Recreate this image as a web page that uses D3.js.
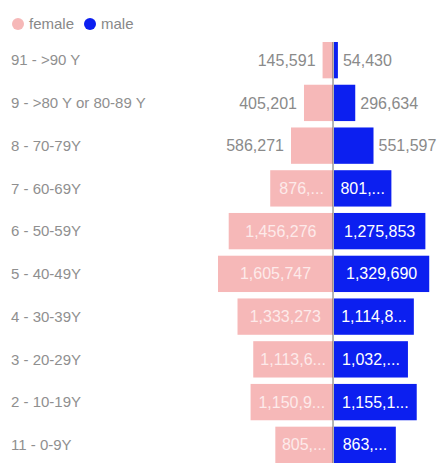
<!DOCTYPE html>
<meta charset="utf-8">
<script src="https://d3js.org/d3.v7.min.js"></script>
<style>
    body { margin: 0; background: #fff; }
    text { font-family: "Liberation Sans", Arial, sans-serif; }
</style>
<body>
    <div id="data_vis"></div>
</body>
<script>
    // age groups, top to bottom
    const categories = ["91 - >90 Y", "9 - >80 Y or 80-89 Y", "8 - 70-79Y", "7 - 60-69Y", "6 - 50-59Y",
        "5 - 40-49Y", "4 - 30-39Y", "3 - 20-29Y", "2 - 10-19Y", "11 - 0-9Y"]
    const female = [145591, 405201, 586271, 876412, 1456276, 1605747, 1333273, 1113614, 1150912, 805318]
    const male = [54430, 296634, 551597, 801235, 1275853, 1329690, 1114832, 1032471, 1155124, 863209]
    const series = ["female", "male"]

    const width = 447,
        height = 466;

    const svg = d3.select("#data_vis")
        .append("svg")
        .attr("width", width)
        .attr("height", height);

    const color = d3.scaleOrdinal()
        .domain(series)
        .range(["#f6b8b8", "#0c1ff0"]);

    // legend
    const legend = svg.append("g").attr("transform", "translate(18,24)");
    [["female", 0], ["male", 72]].forEach(([s, dx]) => {
        legend.append("circle")
            .attr("cx", dx).attr("cy", 0).attr("r", 6)
            .attr("fill", color(s));
        legend.append("text")
            .attr("x", dx + 11).attr("y", 0)
            .attr("dy", "0.35em")
            .style("font-size", "15px")
            .attr("fill", "#888")
            .text(s);
    });

    const maxVal = d3.max(female.concat(male));
    const x = d3.scaleLinear()
        .domain([-maxVal, maxVal])
        .range([218, 448]);

    const y = d3.scaleBand()
        .domain(categories)
        .range([39, 466])
        .paddingInner(0.15)
        .paddingOuter(0.07);

    // category labels
    svg.append("g")
        .selectAll("text")
        .data(categories)
        .join("text")
        .attr("x", 11)
        .attr("y", d => y(d) + y.bandwidth() / 2)
        .attr("dy", "0.35em")
        .style("font-size", "15px")
        .attr("fill", "#8f8f8f")
        .text(d => d);

    const rows = categories.flatMap((c, i) => [
        { cat: c, key: "female", v: female[i] },
        { cat: c, key: "male", v: male[i] }
    ]);

    const barX = d => d.key === "female" ? x(-d.v) : x(0) + 1;
    const barW = d => d.key === "female" ? x(0) - x(-d.v) : x(d.v) - x(0);

    svg.append("g")
        .selectAll("rect")
        .data(rows)
        .join("rect")
        .attr("x", barX)
        .attr("y", d => y(d.cat))
        .attr("width", barW)
        .attr("height", y.bandwidth())
        .attr("fill", d => color(d.key));

    // zero line
    svg.append("line")
        .attr("x1", x(0)).attr("x2", x(0))
        .attr("y1", y(categories[0]))
        .attr("y2", y(categories[categories.length - 1]) + y.bandwidth())
        .attr("stroke", "#444")
        .attr("stroke-width", 0.8);

    // value labels
    const fmt = d3.format(",");
    const labels = svg.append("g")
        .selectAll("text")
        .data(rows)
        .join("text")
        .attr("y", d => y(d.cat) + y.bandwidth() / 2)
        .attr("dy", "0.35em")
        .style("font-size", "16px")
        .text(d => fmt(d.v));

    labels.each(function(d) {
        const t = d3.select(this);
        const w = barW(d);
        const bx = barX(d);
        if (w < 50) {
            // outside the bar
            t.attr("fill", "#8a8a8a");
            if (d.key === "female") t.attr("text-anchor", "end").attr("x", bx - 7);
            else t.attr("text-anchor", "start").attr("x", bx + w + 5);
        } else {
            t.attr("fill", d.key === "female" ? "#fdeaea" : "#fff")
                .attr("text-anchor", "middle")
                .attr("x", bx + w / 2);
            // full text needs some room, otherwise cut it with "..."
            if (this.getComputedTextLength() > w - 14) {
                let s = fmt(d.v);
                do {
                    s = s.slice(0, -1);
                    t.text(s + "...");
                } while (this.getComputedTextLength() > w - 10 && s.length > 1);
            }
        }
    });
</script>
